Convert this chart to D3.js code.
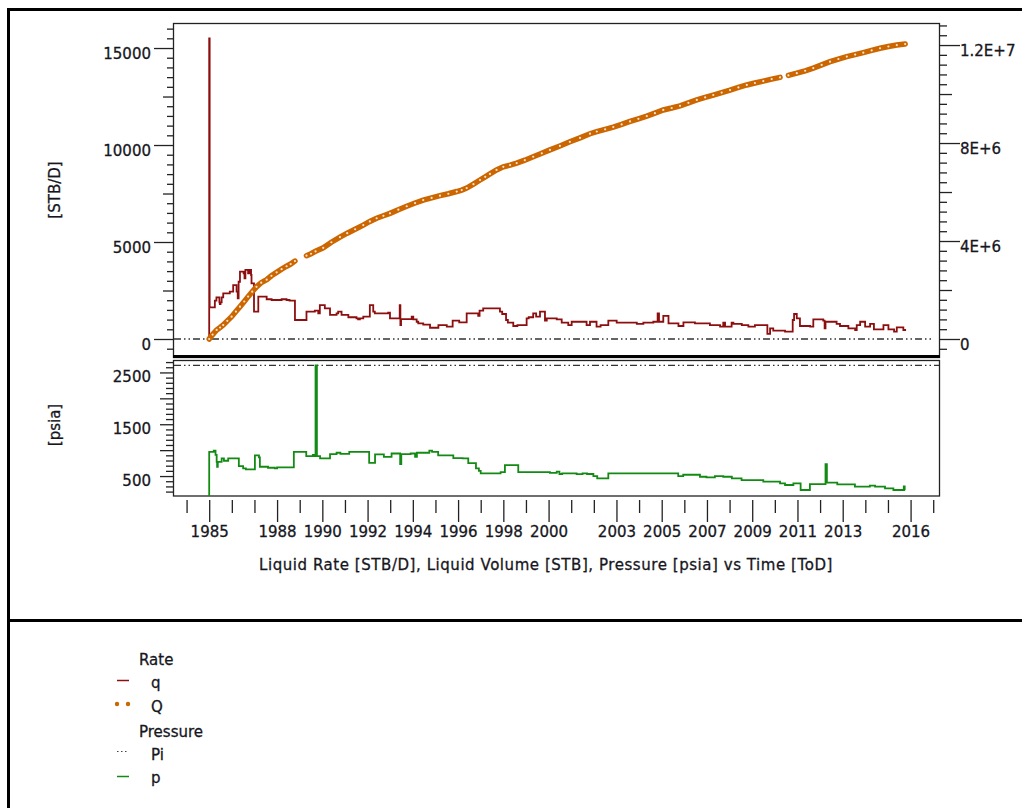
<!DOCTYPE html>
<html>
<head>
<meta charset="utf-8">
<script src="https://cdn.jsdelivr.net/npm/d3@7"></script>
<style>
  html, body { margin: 0; padding: 0; background: #fff; }
  svg { display: block; font-family: "DejaVu Sans", Verdana, sans-serif; }
  svg text { paint-order: stroke; stroke: #1a1a22; stroke-width: 0.3px; }
</style>
</head>
<body>
<svg id="chart" width="1022" height="808"></svg>
<script>
// ---------- data ----------
// Liquid rate q [STB/D], step series (value holds until next time)
const qYears = [1985.00,1985.00,1985.02,1985.25,1985.32,1985.45,1985.47,1985.50,1985.55,1985.62,1985.91,1986.06,1986.21,1986.26,1986.30,1986.36,1986.52,1986.56,1986.60,1986.72,1986.78,1986.85,1986.87,1986.98,1987.17,1987.54,1987.76,1988.20,1988.42,1988.55,1988.79,1989.30,1989.67,1989.82,1989.89,1990.11,1990.34,1990.63,1990.70,1990.85,1991.00,1991.15,1991.51,1991.58,1991.66,1991.81,1992.10,1992.25,1992.32,1992.91,1992.99,1993.40,1993.42,1993.45,1993.48,1993.95,1994.02,1994.17,1994.24,1994.46,1994.76,1995.13,1995.50,1995.76,1996.05,1996.38,1996.89,1996.95,1997.11,1997.85,1997.95,1998.12,1998.20,1998.44,1998.62,1999.03,1999.12,1999.32,1999.45,1999.62,1999.84,1999.92,2000.36,2000.58,2000.87,2001.02,2001.68,2001.83,2002.12,2002.30,2002.64,2003.01,2003.90,2004.19,2004.63,2004.82,2004.88,2005.07,2005.30,2005.74,2005.96,2006.47,2007.13,2007.58,2007.72,2007.80,2008.09,2008.17,2008.54,2008.83,2009.12,2009.67,2009.79,2009.93,2010.45,2010.79,2010.85,2010.97,2011.11,2011.56,2011.70,2012.14,2012.20,2012.24,2012.73,2012.88,2013.25,2013.55,2013.62,2013.77,2013.99,2014.21,2014.38,2014.80,2015.02,2015.27,2015.39,2015.68,2015.80];
const qRates = [0,15500,1630,1980,2150,1890,1800,1890,2150,2350,2440,2780,2440,2100,2950,3470,3380,3130,3560,3380,3560,3300,2870,1410,2180,2050,2010,2050,2010,1975,980,1410,1460,1320,1750,1580,1240,1320,1410,1240,1240,1120,1065,1010,1065,1150,1750,1410,1320,1360,1065,1065,1750,720,1020,1150,1010,890,810,740,580,720,640,945,860,1320,1190,1460,1580,1410,1290,980,840,670,720,1065,1120,1320,1150,1410,945,1065,1010,840,720,890,720,890,640,720,945,840,775,840,890,1320,890,1190,810,670,860,810,720,640,840,640,840,775,720,640,720,260,550,430,380,980,1290,1065,670,640,1010,945,550,890,775,670,550,465,720,890,640,775,500,720,500,380,600,465,465];

// Cumulative liquid volume Q [STB]; NaN marks a break in the marker band
const volYears = [1985.00,1985.15,1985.33,1985.48,1985.62,1985.80,1985.99,1986.18,1986.36,1986.55,1986.72,1986.90,1987.09,1987.30,1987.54,1987.75,1987.98,1988.20,1988.42,1988.60,1988.79,1989.05,1989.30,1989.50,1989.70,1990.04,1990.40,1990.78,1991.10,1991.45,1991.81,1992.10,1992.40,1992.70,1992.99,1993.36,1993.73,1994.10,1994.46,1994.83,1995.20,1995.57,1995.94,1996.16,1996.38,1996.68,1996.97,1997.20,1997.41,1997.70,1998.00,1998.30,1998.59,1998.95,1999.32,1999.70,2000.06,2000.50,2000.94,2001.39,2001.83,2002.13,2002.50,2002.86,2003.23,2003.60,2003.97,2004.34,2004.70,2005.07,2005.44,2005.81,2006.18,2006.55,2006.92,2007.28,2007.65,2008.02,2008.39,2008.76,2009.12,2009.49,2009.86,2010.23,2010.40,2010.60,2010.97,2011.34,2011.70,2012.07,2012.44,2012.81,2013.18,2013.55,2013.91,2014.28,2014.65,2015.02,2015.39,2015.76];
const volValues = [0,0.18e6,0.37e6,0.47e6,0.57e6,0.74e6,0.91e6,1.12e6,1.32e6,1.53e6,1.73e6,1.93e6,2.13e6,2.30e6,2.42e6,2.58e6,2.72e6,2.85e6,2.97e6,3.06e6,3.18e6,NaN,3.40e6,3.48e6,3.58e6,3.72e6,3.95e6,4.16e6,4.32e6,4.48e6,4.65e6,4.80e6,4.93e6,5.03e6,5.13e6,5.28e6,5.42e6,5.55e6,5.67e6,5.76e6,5.85e6,5.93e6,6.02e6,6.08e6,6.16e6,6.32e6,6.49e6,6.62e6,6.74e6,6.90e6,7.03e6,7.10e6,7.18e6,7.30e6,7.44e6,7.58e6,7.72e6,7.88e6,8.05e6,8.21e6,8.38e6,8.47e6,8.56e6,8.65e6,8.76e6,8.88e6,8.99e6,9.10e6,9.22e6,9.35e6,9.43e6,9.52e6,9.64e6,9.76e6,9.86e6,9.96e6,10.06e6,10.16e6,10.27e6,10.37e6,10.45e6,10.53e6,10.61e6,10.68e6,NaN,10.76e6,10.85e6,10.95e6,11.06e6,11.19e6,11.32e6,11.43e6,11.53e6,11.61e6,11.69e6,11.78e6,11.87e6,11.94e6,12.00e6,12.04e6];

// Pressure p [psia], step series
const pYears = [1985.00,1985.00,1985.20,1985.28,1985.33,1985.35,1985.38,1985.55,1985.65,1985.84,1986.31,1986.50,1986.62,1987.02,1987.20,1987.24,1987.60,1987.90,1988.00,1988.74,1989.29,1989.58,1989.66,1989.70,1989.76,1989.90,1990.34,1990.63,1990.80,1991.19,1992.07,1992.33,1992.72,1993.06,1993.44,1993.49,1993.90,1994.10,1994.18,1994.73,1994.85,1995.12,1995.79,1996.20,1996.45,1996.79,1996.92,1997.00,1997.88,1998.07,1998.66,2000.06,2000.36,2000.48,2000.60,2001.24,2001.50,2001.70,2001.98,2002.15,2002.64,2005.73,2005.95,2006.69,2006.98,2007.35,2007.72,2008.10,2008.53,2009.49,2010.23,2010.45,2010.82,2011.14,2011.55,2012.24,2012.30,2012.76,2013.54,2014.20,2014.43,2014.87,2015.24,2015.70,2015.74,2015.76];
const pValues = [0,967,990,910,775,680,775,840,795,840,692,648,629,898,860,680,660,648,667,967,886,910,886,2635,886,840,925,950,930,967,756,920,872,935,730,925,935,870,950,990,967,900,845,840,750,648,600,552,577,712,577,562,585,540,552,537,552,540,500,455,552,500,525,487,474,500,487,455,423,391,359,327,359,231,346,731,372,340,295,314,295,263,231,300,231,231];

// Initial pressure Pi [psia]
const initialPressure = 2635;

// Axis ticks and labels
const rateTickLabels = [0, 5000, 10000, 15000];
const volumeTicks = [0, 4e6, 8e6, 12e6];
const volumeTickLabels = ["0", "4E+6", "8E+6", "1.2E+7"];
const pressureTickLabels = [500, 1500, 2500];
const yearTickLabels = [1985, 1988, 1990, 1992, 1994, 1996, 1998, 2000, 2003, 2005, 2007, 2009, 2011, 2013, 2016];

// Legend
const legendGroups = ["Rate", "Pressure"];
const legendRate = ["q", "Q"];
const legendPressure = ["Pi", "p"];

const axisTitle = "Liquid Rate [STB/D], Liquid Volume [STB], Pressure [psia] vs Time [ToD]";

// ---------- styles ----------
const C_RATE = "#8c0e0e";
const C_VOL = "#cc6600";
const C_PRES = "#138a13";
const C_TEXT = "#16161e";

// ---------- layout ----------
const L = 173, R = 940;
const TOP_T = 23, TOP_B = 357;
const BOT_T = 360, BOT_B = 496;

const svg = d3.select("#chart");

const x = d3.scaleLinear().domain([1983.4, 2017.3]).range([L, R]);
const yRate = d3.scaleLinear().domain([-928, 16290]).range([TOP_B, TOP_T]);
const yVol = d3.scaleLinear().domain([-0.735e6, 12.9e6]).range([TOP_B, TOP_T]);
const yPres = d3.scaleLinear().domain([115, 2740]).range([BOT_B, BOT_T]);

const defs = svg.append("defs");
defs.append("clipPath").attr("id", "clipTop")
  .append("rect").attr("x", L).attr("y", TOP_T).attr("width", R - L).attr("height", TOP_B - TOP_T);
defs.append("clipPath").attr("id", "clipBot")
  .append("rect").attr("x", L).attr("y", BOT_T).attr("width", R - L).attr("height", BOT_B - BOT_T);

// ---------- outer frame ----------
svg.append("line").attr("x1", 7).attr("x2", 1022).attr("y1", 9.5).attr("y2", 9.5)
  .attr("stroke", "#000").attr("stroke-width", 3);
svg.append("line").attr("x1", 8.5).attr("x2", 8.5).attr("y1", 8).attr("y2", 808)
  .attr("stroke", "#000").attr("stroke-width", 3);
svg.append("line").attr("x1", 7).attr("x2", 1022).attr("y1", 620.5).attr("y2", 620.5)
  .attr("stroke", "#000").attr("stroke-width", 3);

// ---------- axes helpers ----------
function range(a, b, s) { const out = []; for (let v = a; v <= b + 1e-9; v += s) out.push(+v.toFixed(6)); return out; }
function styleAxis(g) {
  g.select(".domain").remove();
  g.selectAll(".tick line").attr("stroke", "#222").attr("stroke-width", 1.3);
  g.selectAll("text").attr("fill", C_TEXT).style("font-size", "15px").style("font-family", '"DejaVu Sans", Verdana, sans-serif');
}

// Rate axis (left, top panel)
const rateAll = range(-500, 16000, 500);
const rateMid = rateAll.filter(v => v % 2500 === 0 && v % 5000 !== 0);
const rateMinor = rateAll.filter(v => v % 2500 !== 0);
svg.append("g").attr("transform", `translate(${L},0)`)
  .call(d3.axisLeft(yRate).tickValues(rateMinor).tickSize(6).tickFormat(""))
  .call(styleAxis);
svg.append("g").attr("transform", `translate(${L},0)`)
  .call(d3.axisLeft(yRate).tickValues(rateMid).tickSize(10).tickFormat(""))
  .call(styleAxis);
svg.append("g").attr("transform", `translate(${L},0)`)
  .call(d3.axisLeft(yRate).tickValues(rateTickLabels).tickSize(19).tickPadding(3).tickFormat(d3.format("d")))
  .call(styleAxis)
  .call(g => g.selectAll("text").attr("dy", "0.68em"));

// Volume axis (right, top panel)
const volAll = range(-0.4e6, 12.8e6, 0.4e6);
const volMid = volAll.filter(v => Math.round(v / 2e5) % 10 === 0 && Math.round(v / 2e5) % 20 !== 0);
const volMinor = volAll.filter(v => Math.round(v / 2e5) % 10 !== 0);
svg.append("g").attr("transform", `translate(${R},0)`)
  .call(d3.axisRight(yVol).tickValues(volMinor).tickSize(7).tickFormat(""))
  .call(styleAxis);
svg.append("g").attr("transform", `translate(${R},0)`)
  .call(d3.axisRight(yVol).tickValues(volMid).tickSize(12).tickFormat(""))
  .call(styleAxis);
svg.append("g").attr("transform", `translate(${R},0)`)
  .call(d3.axisRight(yVol).tickValues(volumeTicks).tickSize(20).tickPadding(0)
    .tickFormat((d, i) => volumeTickLabels[i]))
  .call(styleAxis)
  .call(g => g.selectAll("text").attr("dy", "0.7em"));

// Pressure axis (left, bottom panel)
const presAll = range(200, 2700, 100);
const presMajor = presAll.filter(v => v % 500 === 0);
const presMinor = presAll.filter(v => v % 500 !== 0);
svg.append("g").attr("transform", `translate(${L},0)`)
  .call(d3.axisLeft(yPres).tickValues(presMinor).tickSize(7).tickFormat(""))
  .call(styleAxis);
svg.append("g").attr("transform", `translate(${L},0)`)
  .call(d3.axisLeft(yPres).tickValues(presMajor).tickSize(13).tickPadding(9)
    .tickFormat(d => pressureTickLabels.includes(d) ? d3.format("d")(d) : ""))
  .call(styleAxis)
  .call(g => g.selectAll("text").attr("dy", "0.6em"));

// Time axis (below bottom panel)
const years = range(1984, 2017, 1);
svg.append("g").attr("transform", `translate(0,${BOT_B + 4})`)
  .call(d3.axisBottom(x).tickValues(years.filter(y => !yearTickLabels.includes(y))).tickSize(13).tickFormat(""))
  .call(styleAxis);
svg.append("g").attr("transform", `translate(0,${BOT_B + 4})`)
  .call(d3.axisBottom(x).tickValues(yearTickLabels).tickSize(22).tickPadding(4).tickFormat(d3.format("d")))
  .call(styleAxis);

// ---------- panel frames ----------
svg.append("rect").attr("x", L + 0.5).attr("y", TOP_T + 0.5).attr("width", R - L - 1).attr("height", TOP_B - TOP_T)
  .attr("fill", "none").attr("stroke", "#222").attr("stroke-width", 1.3);
svg.append("rect").attr("x", L + 0.5).attr("y", BOT_T + 0.5).attr("width", R - L - 1).attr("height", BOT_B - BOT_T - 0.5)
  .attr("fill", "none").attr("stroke", "#222").attr("stroke-width", 1.3);
svg.append("line").attr("x1", L).attr("x2", R).attr("y1", TOP_B - 0.5).attr("y2", TOP_B - 0.5)
  .attr("stroke", "#000").attr("stroke-width", 3);

// ---------- Pi reference lines ----------
const piDash = "7,3,1.5,3,1.5,3";
svg.append("line").attr("x1", L + 1).attr("x2", R - 6).attr("y1", yRate(0)).attr("y2", yRate(0))
  .attr("stroke", "#333").attr("stroke-width", 1.3).attr("stroke-dasharray", piDash);
svg.append("line").attr("x1", L + 1).attr("x2", R - 1).attr("y1", yPres(initialPressure)).attr("y2", yPres(initialPressure))
  .attr("stroke", "#333").attr("stroke-width", 1.3).attr("stroke-dasharray", piDash);

// ---------- rate q ----------
const topPanel = svg.append("g").attr("clip-path", "url(#clipTop)");
const qLine = d3.line().x(d => x(d[0])).y(d => yRate(d[1])).curve(d3.curveStepAfter);
topPanel.append("path")
  .datum(qYears.map((t, i) => [t, qRates[i]]))
  .attr("d", qLine).attr("fill", "none").attr("stroke", C_RATE).attr("stroke-width", 1.8);

// ---------- cumulative Q ----------
const volData = volYears.map((t, i) => [t, volValues[i]]);
const volLine = d3.line().defined(d => !isNaN(d[1])).x(d => x(d[0])).y(d => yVol(d[1])).curve(d3.curveLinear);
topPanel.append("path").datum(volData).attr("d", volLine)
  .attr("fill", "none").attr("stroke", C_VOL).attr("stroke-width", 5.5).attr("stroke-linecap", "round");
topPanel.selectAll("circle.vol").data(volData.filter(d => !isNaN(d[1]))).join("circle")
  .attr("class", "vol").attr("cx", d => x(d[0])).attr("cy", d => yVol(d[1]))
  .attr("r", 1.1).attr("fill", "#fbe3cc");

// ---------- pressure p ----------
const bottomPanel = svg.append("g").attr("clip-path", "url(#clipBot)");
const pLine = d3.line().x(d => x(d[0])).y(d => yPres(d[1])).curve(d3.curveStepAfter);
bottomPanel.append("path")
  .datum(pYears.map((t, i) => [t, pValues[i]]))
  .attr("d", pLine).attr("fill", "none").attr("stroke", C_PRES).attr("stroke-width", 1.8);

// ---------- axis titles ----------
svg.append("text").attr("transform", `translate(60,190) rotate(-90)`)
  .attr("text-anchor", "middle").attr("fill", C_TEXT).style("font-size", "15px").text("[STB/D]");
svg.append("text").attr("transform", `translate(60,${(BOT_T + BOT_B) / 2 - 3}) rotate(-90)`)
  .attr("text-anchor", "middle").attr("fill", C_TEXT).style("font-size", "15px").text("[psia]");
svg.append("text").attr("x", 546).attr("y", 570).attr("text-anchor", "middle")
  .attr("fill", C_TEXT).style("font-size", "15px").style("letter-spacing", "0.55px").text(axisTitle);

// ---------- legend ----------
const lg = svg.append("g").style("font-size", "15px").attr("fill", C_TEXT);
lg.append("text").attr("x", 139).attr("y", 665).text(legendGroups[0]);
lg.append("text").attr("x", 151).attr("y", 688).text(legendRate[0]);
lg.append("text").attr("x", 151).attr("y", 712).text(legendRate[1]);
lg.append("text").attr("x", 139).attr("y", 737).text(legendGroups[1]);
lg.append("text").attr("x", 151).attr("y", 760).text(legendPressure[0]);
lg.append("text").attr("x", 151).attr("y", 783).text(legendPressure[1]);
lg.append("line").attr("x1", 117).attr("x2", 129).attr("y1", 680.5).attr("y2", 680.5)
  .attr("stroke", C_RATE).attr("stroke-width", 1.5);
lg.selectAll("circle.lgq").data([117, 128]).join("circle").attr("class", "lgq")
  .attr("cx", d => d).attr("cy", 704).attr("r", 2.2).attr("fill", C_VOL);
lg.append("line").attr("x1", 117).attr("x2", 129).attr("y1", 751.5).attr("y2", 751.5)
  .attr("stroke", "#444").attr("stroke-width", 1.2).attr("stroke-dasharray", "1.5,2.5");
lg.append("line").attr("x1", 117).attr("x2", 129).attr("y1", 776.5).attr("y2", 776.5)
  .attr("stroke", C_PRES).attr("stroke-width", 1.5);
</script>
</body>
</html>
